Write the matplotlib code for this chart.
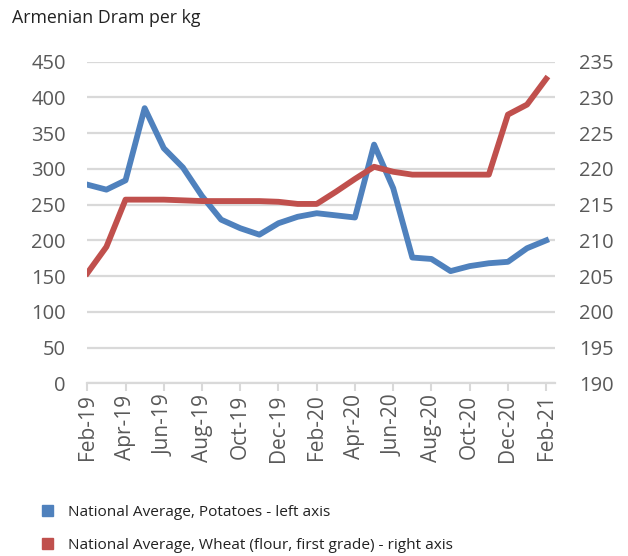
import matplotlib
matplotlib.use("Agg")
import matplotlib.pyplot as plt
import matplotlib.patches as mpatches
import numpy as np

# ── Data ──────────────────────────────────────────────────────────────────────
MONTHS = ["Feb-19", "Mar-19", "Apr-19", "May-19", "Jun-19", "Jul-19", "Aug-19",
          "Sep-19", "Oct-19", "Nov-19", "Dec-19", "Jan-20", "Feb-20", "Mar-20",
          "Apr-20", "May-20", "Jun-20", "Jul-20", "Aug-20", "Sep-20", "Oct-20",
          "Nov-20", "Dec-20", "Jan-21", "Feb-21"]

potatoes = [278, 271, 284, 385, 329, 302, 262, 229, 217, 208, 224, 233, 238,
            235, 232, 334, 273, 176, 174, 157, 164, 168, 170, 189, 200]

wheat = [205.4, 209.1, 215.7, 215.7, 215.7, 215.6, 215.5, 215.5, 215.5, 215.5,
         215.4, 215.1, 215.1, 216.8, 218.6, 220.3, 219.6, 219.2, 219.2, 219.2,
         219.2, 219.2, 227.6, 229.0, 232.6]

BLUE = "#4F81BD"
RED = "#C0504D"
GRAY = "#595959"
FONT = "Open Sans"

# ── Figure ────────────────────────────────────────────────────────────────────
fig = plt.figure(figsize=(6.28, 5.56), dpi=100)
ax = fig.add_axes([0.139, 0.3106, 0.745, 0.5784])
ax2 = ax.twinx()

x = np.arange(len(MONTHS))
ax.plot(x, potatoes, color=BLUE, linewidth=4.2, solid_joinstyle="round", zorder=3)
ax2.plot(x, wheat, color=RED, linewidth=4.2, solid_joinstyle="round", zorder=3)

ax.set_xlim(0, 24.47)
ax.set_ylim(0, 450)
ax2.set_ylim(190, 235)
ax.set_yticks(np.arange(0, 451, 50))
ax2.set_yticks(np.arange(190, 236, 5))

ax.set_xticks(x[::2])
ax.set_xticklabels(MONTHS[::2], rotation=90, fontsize=15, color=GRAY, family=FONT)
ax.tick_params(axis="x", length=6, width=1.5, color="#d9d9d9", pad=2)
ax.tick_params(axis="y", length=0, pad=15.5, labelsize=14.5, labelcolor=GRAY)
ax2.tick_params(axis="y", length=0, pad=17, labelsize=14.5, labelcolor=GRAY)
for lbl in ax.get_yticklabels() + ax2.get_yticklabels():
    lbl.set_family(FONT)

ax.yaxis.grid(True, color="#d9d9d9", linewidth=1.6, zorder=0)
ax.set_axisbelow(True)
for a in (ax, ax2):
    for s in ["top", "right", "left", "bottom"]:
        a.spines[s].set_visible(False)
ax.spines["bottom"].set_visible(True)
ax.spines["bottom"].set_color("#d9d9d9")
ax.spines["bottom"].set_linewidth(1.6)

fig.text(0.019, 0.967, "Armenian Dram per kg", fontsize=12.8, color="#222222",
         family=FONT, va="center", ha="left")

# Legend
handles = [mpatches.Patch(color=BLUE, label="National Average, Potatoes - left axis"),
           mpatches.Patch(color=RED, label="National Average, Wheat (flour, first grade) - right axis")]
fig.legend(handles=handles, loc="lower left", bbox_to_anchor=(0.045, -0.02),
           frameon=False, prop={"family": FONT, "size": 11.1}, labelcolor="#222222",
           handlelength=0.7, handleheight=0.7, handletextpad=1.0, labelspacing=1.2)

fig.savefig("out.png", dpi=100)
